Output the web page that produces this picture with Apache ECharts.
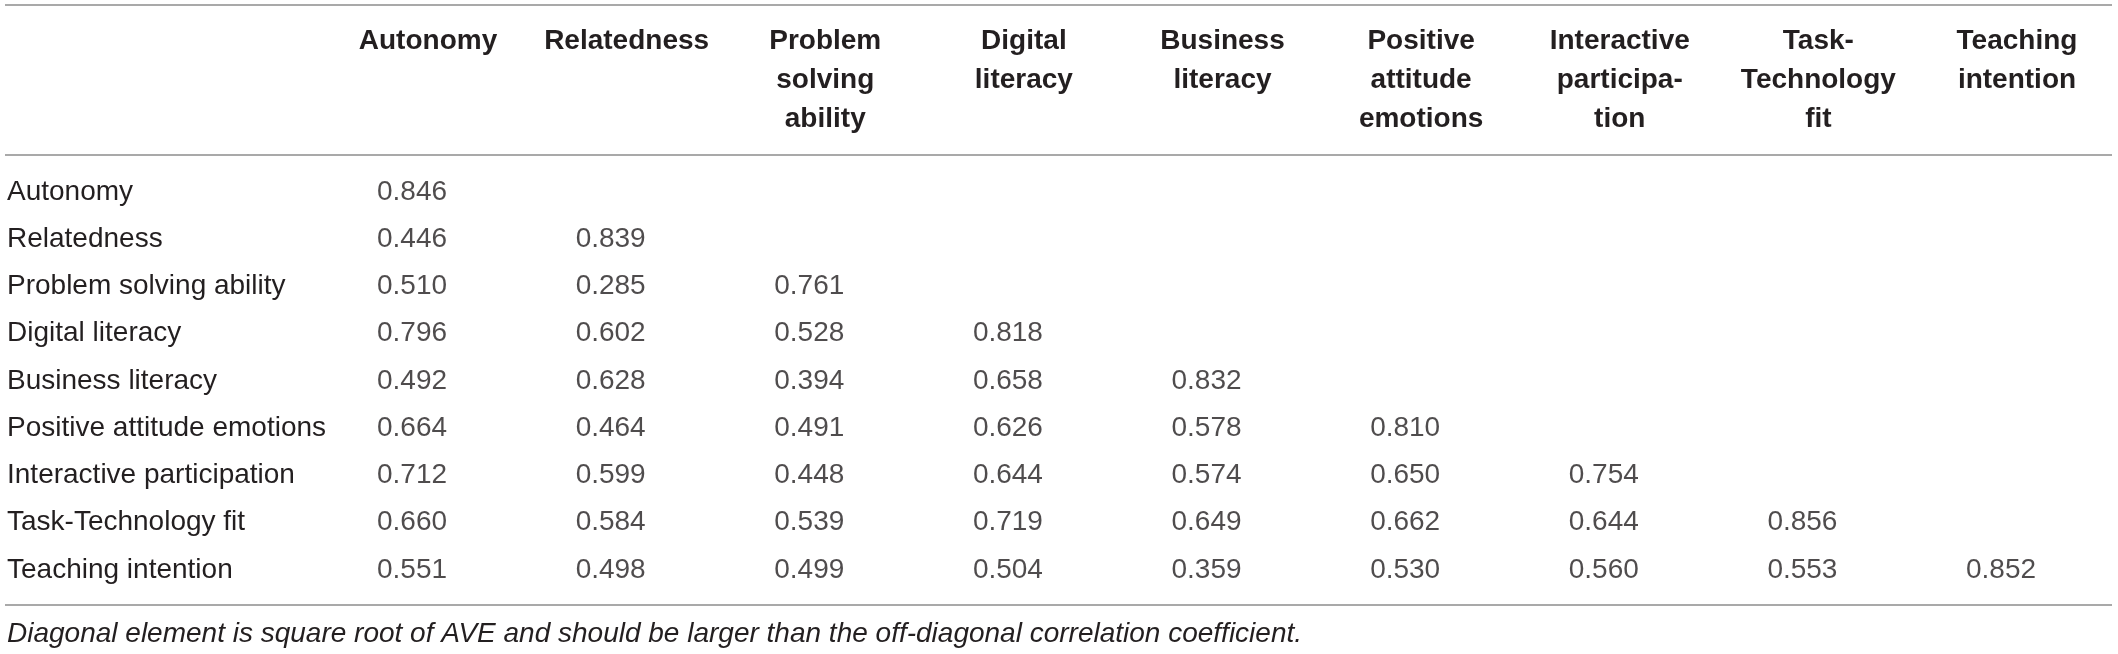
<!DOCTYPE html>
<html lang="en">
<head>
    <meta charset="UTF-8">
    <script src="https://cdn.jsdelivr.net/npm/echarts@6/dist/echarts.min.js"></script>
    <title>Discriminant validity</title>
    <style>
        html, body { margin: 0; padding: 0; background: #fff; }
    </style>
</head>
<body>
    <div id="main" style="width:2118px;height:654px"></div>
    <script>
        // column headers (top) and row labels (left)
        var colHeaders = ['Autonomy', 'Relatedness', 'Problem\nsolving\nability', 'Digital\nliteracy',
            'Business\nliteracy', 'Positive\nattitude\nemotions', 'Interactive\nparticipa-\ntion',
            'Task-\nTechnology\nfit', 'Teaching\nintention'];
        var rowLabels = ['Autonomy', 'Relatedness', 'Problem solving ability', 'Digital literacy',
            'Business literacy', 'Positive attitude emotions', 'Interactive participation',
            'Task-Technology fit', 'Teaching intention'];

        // lower triangle, one array per row
        var autonomy = [0.846];
        var relatedness = [0.446, 0.839];
        var problemSolving = [0.510, 0.285, 0.761];
        var digitalLiteracy = [0.796, 0.602, 0.528, 0.818];
        var businessLiteracy = [0.492, 0.628, 0.394, 0.658, 0.832];
        var positiveAttitude = [0.664, 0.464, 0.491, 0.626, 0.578, 0.810];
        var interactive = [0.712, 0.599, 0.448, 0.644, 0.574, 0.650, 0.754];
        var taskTechFit = [0.660, 0.584, 0.539, 0.719, 0.649, 0.662, 0.644, 0.856];
        var teachingIntention = [0.551, 0.498, 0.499, 0.504, 0.359, 0.530, 0.560, 0.553, 0.852];

        var rows = [autonomy, relatedness, problemSolving, digitalLiteracy, businessLiteracy,
            positiveAttitude, interactive, taskTechFit, teachingIntention];

        var cells = [];
        rows.forEach(function (r, i) {
            r.forEach(function (v, j) {
                cells.push([j, i, v]);
            });
        });

        var font = '"Liberation Sans", Helvetica, Arial, sans-serif';
        var ruleStyle = { stroke: '#8c8c8c', lineWidth: 1.5 };

        var echart = echarts.init(document.getElementById('main'));
        var option = {
            backgroundColor: '#fff',
            animation: false,
            title: {
                text: 'Diagonal element is square root of AVE and should be larger than the off-diagonal correlation coefficient.',
                left: 7,
                top: 620,
                padding: 0,
                textStyle: {
                    fontFamily: font,
                    fontSize: 28,
                    lineHeight: 28,
                    fontStyle: 'italic',
                    fontWeight: 'normal',
                    color: '#231f20'
                }
            },
            grid: { left: 428, right: 101, top: 192, bottom: 84 },
            xAxis: {
                type: 'category',
                position: 'top',
                data: colHeaders,
                boundaryGap: false,
                axisLine: { show: false },
                axisTick: { show: false },
                splitLine: { show: false },
                axisLabel: {
                    interval: 0,
                    margin: 170,
                    verticalAlign: 'top',
                    align: 'center',
                    fontFamily: font,
                    fontSize: 28,
                    lineHeight: 39,
                    fontWeight: 'bold',
                    color: '#231f20'
                }
            },
            yAxis: {
                type: 'category',
                data: rowLabels,
                inverse: true,
                boundaryGap: false,
                axisLine: { show: false },
                axisTick: { show: false },
                splitLine: { show: false },
                axisLabel: {
                    interval: 0,
                    margin: 421,
                    align: 'left',
                    fontFamily: font,
                    fontSize: 28,
                    color: '#231f20'
                }
            },
            series: [{
                type: 'scatter',
                data: cells,
                symbol: 'rect',
                symbolSize: 1,
                itemStyle: { color: 'transparent' },
                label: {
                    show: true,
                    position: 'inside',
                    align: 'left',
                    offset: [-51, 0],
                    formatter: function (p) { return p.value[2].toFixed(3); },
                    fontFamily: font,
                    fontSize: 28,
                    color: '#231f20'
                }
            }],
            graphic: [
                { type: 'line', shape: { x1: 5, y1: 5, x2: 2112, y2: 5 }, style: ruleStyle },
                { type: 'line', shape: { x1: 5, y1: 155, x2: 2112, y2: 155 }, style: ruleStyle },
                { type: 'line', shape: { x1: 5, y1: 605, x2: 2112, y2: 605 }, style: ruleStyle }
            ]
        };
        echart.setOption(option);
    </script>
</body>
</html>
